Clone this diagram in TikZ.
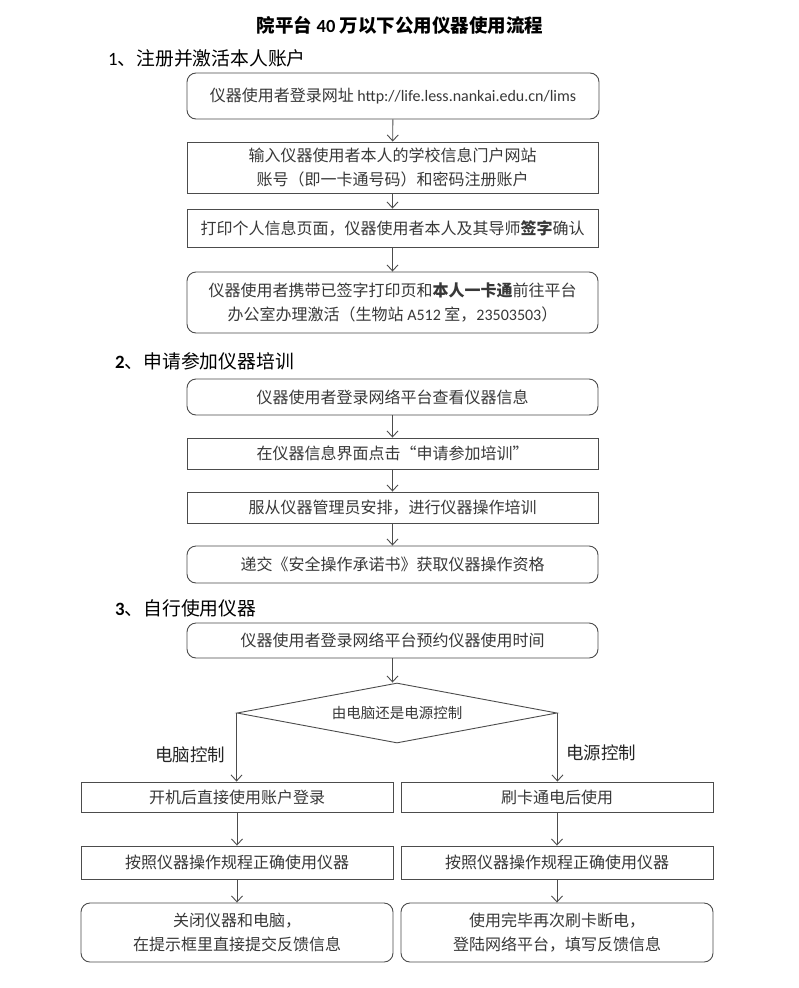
\documentclass[tikz,border=0pt]{standalone}
\usepackage{fontspec}
\setmainfont{Noto Sans CJK SC}
\newfontfamily\lat{Carlito}
\usetikzlibrary{arrows.meta,shapes.geometric}
\definecolor{linec}{gray}{0.30}
\definecolor{txtc}{gray}{0.22}
\tikzset{
  base/.style={draw=linec, line width=0.9pt, inner sep=0pt, align=center, text=txtc,
     font=\fontsize{16}{24}\selectfont},
  rbox/.style={base, rounded corners=9pt},
  sbox/.style={base},
  arr/.style={draw=linec, line width=0.9pt, -{Straight Barb[length=6pt,width=11pt]}},
  head/.style={anchor=west, inner sep=0pt, text=black, font=\fontsize{18.8}{22}\selectfont},
  lbl/.style={inner sep=0pt, text=black!85, font=\fontsize{17.5}{22}\selectfont},
}
\begin{document}
\begin{tikzpicture}[x=1pt,y=-1pt]
\useasboundingbox[fill=white] (0,0) rectangle (799,988);

\node[inner sep=0pt, font=\fontsize{18.5}{22}\selectfont\bfseries] (title) at (400,25) {院平台 {\lat 40} 万以下公用仪器使用流程};

\node[head] (h1) at (108,58) {{\lat 1}、注册并激活本人账户};
\node[rbox, minimum width=412pt, minimum height=46pt] (b1) at (393,96)
  {仪器使用者登录网址 {\lat http://life.less.nankai.edu.cn/lims}};
\node[sbox, minimum width=411pt, minimum height=51pt] (b2) at (392.5,167.5)
  {输入仪器使用者本人的学校信息门户网站\\账号（即一卡通号码）和密码注册账户};
\node[sbox, minimum width=411pt, minimum height=38pt] (b3) at (392.5,228)
  {打印个人信息页面，仪器使用者本人及其导师\textbf{签字}确认};
\node[rbox, minimum width=411pt, minimum height=61pt] (b4) at (392.5,302.5)
  {仪器使用者携带已签字打印页和\textbf{本人一卡通}前往平台\\办公室办理激活（生物站 {\lat A512} 室，{\lat 23503503}）};

\node[head] (h2) at (115,361) {\textbf{\lat 2}、申请参加仪器培训};
\node[rbox, minimum width=411pt, minimum height=36pt] (b5) at (392.5,397)
  {仪器使用者登录网络平台查看仪器信息};
\node[sbox, minimum width=411pt, minimum height=31pt] (b6) at (392.5,453.5)
  {在仪器信息界面点击“申请参加培训”};
\node[sbox, minimum width=411pt, minimum height=31pt] (b7) at (392.5,507.5)
  {服从仪器管理员安排，进行仪器操作培训};
\node[rbox, minimum width=411pt, minimum height=37pt] (b8) at (392.5,564.5)
  {递交《安全操作承诺书》获取仪器操作资格};

\node[head] (h3) at (115,608) {\textbf{\lat 3}、自行使用仪器};
\node[rbox, minimum width=411pt, minimum height=35pt] (b9) at (392.5,640.5)
  {仪器使用者登录网络平台预约仪器使用时间};

\node[base, diamond, aspect=5.33, minimum width=320pt, minimum height=60pt,
      font=\fontsize{14.5}{18}\selectfont] (dia) at (397,713) {由电脑还是电源控制};

\node[lbl] (lab1) at (190,755) {电脑控制};
\node[lbl] (lab2) at (601,753) {电源控制};

\node[sbox, minimum width=312pt, minimum height=30pt] (l1) at (237,797) {开机后直接使用账户登录};
\node[sbox, minimum width=312pt, minimum height=33pt] (l2) at (237,862.5) {按照仪器操作规程正确使用仪器};
\node[rbox, minimum width=312pt, minimum height=59pt] (l3) at (237,932.5)
  {关闭仪器和电脑，\\在提示框里直接提交反馈信息};

\node[sbox, minimum width=312pt, minimum height=30pt] (r1) at (557,797) {刷卡通电后使用};
\node[sbox, minimum width=312pt, minimum height=33pt] (r2) at (557,862.5) {按照仪器操作规程正确使用仪器};
\node[rbox, minimum width=312pt, minimum height=59pt] (r3) at (557,932.5)
  {使用完毕再次刷卡断电，\\登陆网络平台，填写反馈信息};

\draw[arr] (b1) -- (b2);
\draw[arr] (b2) -- (b3);
\draw[arr] (b3) -- (b4);
\draw[arr] (b5) -- (b6);
\draw[arr] (b6) -- (b7);
\draw[arr] (b7) -- (b8);
\draw[arr] (b9.south) -- (b9.south |- dia.north);
\draw[arr] (dia.west) -- (dia.west |- l1.north);
\draw[arr] (dia.east) -- (dia.east |- r1.north);
\draw[arr] (l1) -- (l2);
\draw[arr] (l2) -- (l3);
\draw[arr] (r1) -- (r2);
\draw[arr] (r2) -- (r3);
\end{tikzpicture}
\end{document}
